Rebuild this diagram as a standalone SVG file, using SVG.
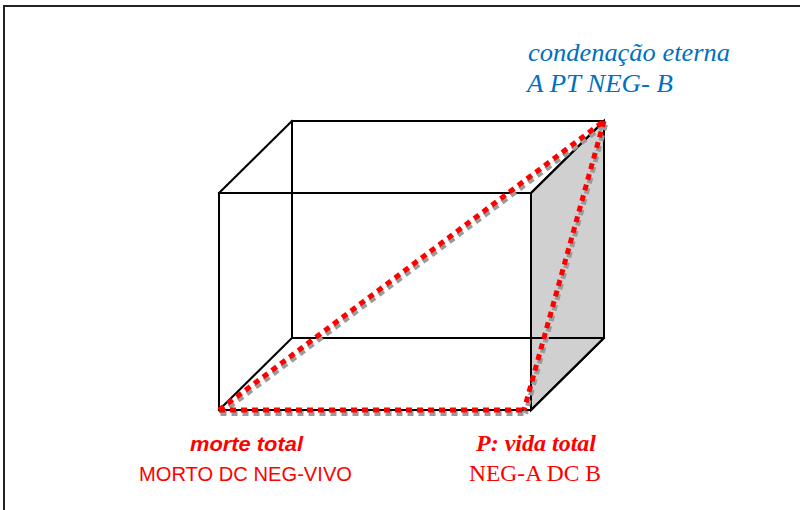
<svg xmlns="http://www.w3.org/2000/svg" width="800" height="510" viewBox="0 0 800 510">
<style>
.edge{stroke:#000;stroke-width:2;fill:none;stroke-linecap:square}
.face{fill:#d0d0d0;stroke:#000;stroke-width:2}
.dot{fill:none;stroke:#ff0000;stroke-width:5;stroke-dasharray:6 5}
.shadow{fill:none;stroke:#9a9a9a;stroke-width:5;stroke-dasharray:6 5}
.blue{fill:#0070c0;font-family:"Liberation Serif",serif;font-style:italic;font-size:26px}
.redS{fill:#ff0000;font-family:"Liberation Sans",sans-serif;font-size:21px}
.redT{fill:#ff0000;font-family:"Liberation Serif",serif;font-size:24px}
</style>
<rect x="0" y="0" width="800" height="510" fill="#fff"/>
<path d="M4,520 V6 H810" fill="none" stroke="#222" stroke-width="2"/>
<g id="cube">
<polygon class="face" points="531,193 604,121 604,338 531,410"/>
<rect class="edge" x="292" y="121" width="312" height="217"/>
<rect class="edge" x="219" y="193" width="312" height="217"/>
<line class="edge" x1="219" y1="193" x2="292" y2="121"/>
<line class="edge" x1="531" y1="193" x2="604" y2="121"/>
<line class="edge" x1="219" y1="410" x2="292" y2="338"/>
<line class="edge" x1="531" y1="410" x2="604" y2="338"/>
</g>
<g id="connectors">
<g transform="translate(1.5,3.5)">
<path class="shadow" d="M219,410 L604,121"/>
<path class="shadow" d="M604,121 L524,410"/>
<path class="shadow" d="M219,410 L524,410"/>
</g>
<path class="dot" d="M219,410 L604,121"/>
<path class="dot" d="M604,121 L524,410"/>
<path class="dot" d="M219,410 L524,410"/>
</g>
<g id="top-label">
<text class="blue" x="528" y="61" textLength="202" lengthAdjust="spacingAndGlyphs">condenação eterna</text>
<text class="blue" x="527" y="92" textLength="146" lengthAdjust="spacingAndGlyphs">A PT NEG- B</text>
</g>
<g id="left-label">
<text class="redS" x="190" y="451" font-weight="bold" font-style="italic" textLength="113" lengthAdjust="spacingAndGlyphs">morte total</text>
<text class="redS" x="139" y="481" textLength="213" lengthAdjust="spacingAndGlyphs">MORTO DC NEG-VIVO</text>
</g>
<g id="right-label">
<text class="redT" x="476" y="451" font-weight="bold" font-style="italic" textLength="120" lengthAdjust="spacingAndGlyphs">P: vida total</text>
<text class="redT" x="469" y="481" textLength="132" lengthAdjust="spacingAndGlyphs">NEG-A DC B</text>
</g>
</svg>
